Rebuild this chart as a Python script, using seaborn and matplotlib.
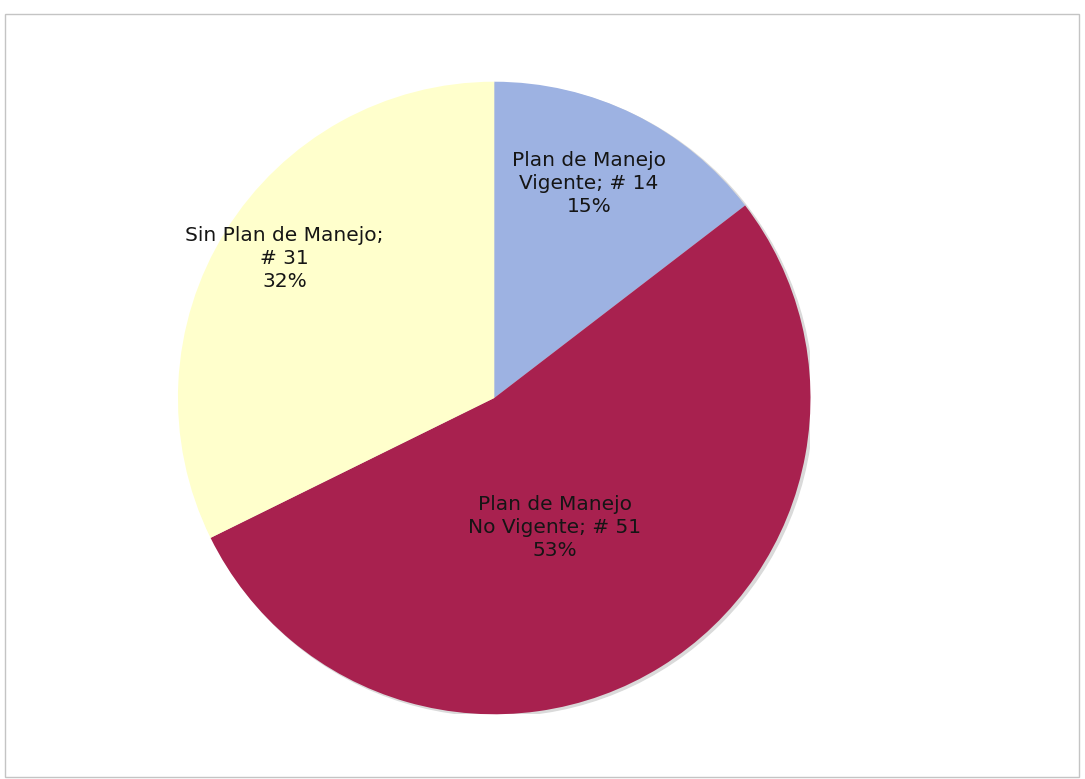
import matplotlib
matplotlib.use("Agg")
import matplotlib.pyplot as plt
import matplotlib.patches as mpatches
import seaborn as sns

categories = ["Plan de Manejo\nVigente", "Plan de Manejo\nNo Vigente", "Sin Plan de Manejo;\n"]
counts = [14, 51, 31]
percents = ["15%", "53%", "32%"]
colors = ["#9DB2E2", "#A8214F", "#FFFFCC"]

sns.set_theme(style="white")
plt.rcParams["font.family"] = ["DejaVu Sans"]

fig = plt.figure(figsize=(10.85, 7.79), dpi=100)
ax = fig.add_axes([0.1640, 0.0809, 0.583, 0.8164])

wedges, _ = ax.pie(counts, colors=colors, startangle=90, counterclock=False,
                   radius=1.0, wedgeprops=dict(linewidth=0))

# soft shadow along the rim
shadow = mpatches.Circle((0.008, -0.006), 1.0, color="#DADADA", zorder=0)
ax.add_patch(shadow)
for w in wedges:
    w.set_zorder(1)

label_pos = [(0.30, 0.679), (0.192, -0.409), (-0.663, 0.44)]
for cat, n, p, (x, y) in zip(categories, counts, percents, label_pos):
    if cat.endswith(";\n"):
        txt = f"{cat}# {n}\n{p}"
    else:
        txt = f"{cat}; # {n}\n{p}"
    ax.text(x, y, txt, ha="center", va="center", fontsize=14.5,
            color="#151515", linespacing=1.27, zorder=3)

ax.set_xlim(-1, 1)
ax.set_ylim(-1, 1)
ax.set_aspect("equal")
ax.axis("off")

# chart-area border
border = mpatches.Rectangle((5 / 1085, 2 / 779), 1074 / 1085, 763 / 779,
                            transform=fig.transFigure, fill=False,
                            edgecolor="#C4C4C4", linewidth=1.0)
fig.patches.append(border)

fig.savefig("out.png", dpi=100, facecolor="white")
